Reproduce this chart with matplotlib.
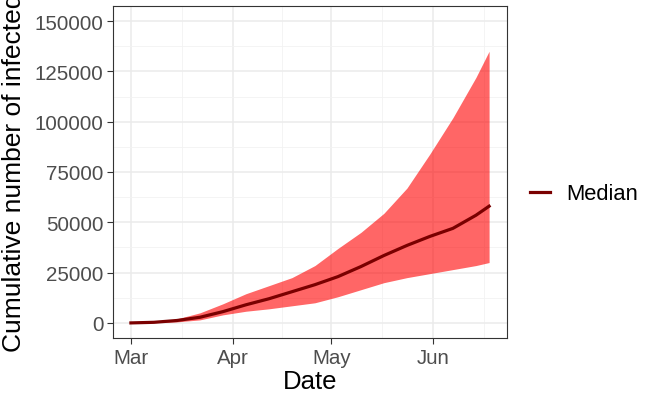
import numpy as np
import pandas as pd
import matplotlib
matplotlib.use("Agg")
import matplotlib.pyplot as plt
import matplotlib.dates as mdates

plt.rcParams['font.family'] = ['Liberation Sans', 'DejaVu Sans']

# === DATA ====================================================================
dates = pd.to_datetime([
    "2020-03-01", "2020-03-08", "2020-03-15", "2020-03-22", "2020-03-29",
    "2020-04-05", "2020-04-12", "2020-04-19", "2020-04-26", "2020-05-03",
    "2020-05-10", "2020-05-17", "2020-05-24", "2020-05-31", "2020-06-07",
    "2020-06-14", "2020-06-18"])
median = [0, 300, 1200, 2800, 5600, 9000, 12000, 15500, 19000, 23000,
          28000, 33500, 38500, 43000, 47000, 53500, 58000]
upper = [0, 400, 2000, 5000, 9500, 14500, 18500, 22500, 28500, 37000,
         45000, 54500, 67000, 84000, 102000, 122000, 135000]
lower = [0, 150, 500, 1500, 4000, 5800, 7000, 8500, 10000, 13000,
         16500, 20000, 22500, 24500, 26500, 28500, 30000]

month_ticks = pd.to_datetime(["2020-03-01", "2020-04-01", "2020-05-01", "2020-06-01"])
month_labels = ["Mar", "Apr", "May", "Jun"]
y_ticks = [0, 25000, 50000, 75000, 100000, 125000, 150000]

# === PLOT ====================================================================
fig = plt.figure(figsize=(6.51, 4.02), dpi=100)
ax = fig.add_axes([113 / 651, 63 / 402, 394 / 651, 332 / 402])

ax.fill_between(dates, lower, upper, color="#FF0000", alpha=0.6, linewidth=0, zorder=2)
ax.plot(dates, median, color="#7A0000", linewidth=2.3, label="Median", zorder=3)

# axes limits (ggplot style 5% expansion)
x0 = mdates.date2num(dates[0])
x1 = mdates.date2num(dates[-1])
pad = (x1 - x0) * 0.05
ax.set_xlim(x0 - pad, x1 + pad)
ax.set_ylim(-7500, 157500)

major_x = mdates.date2num(month_ticks)
minor_x = list((major_x[:-1] + major_x[1:]) / 2) + [major_x[-1] + 15.5]
ax.set_xticks(major_x)
ax.set_xticklabels(month_labels)
ax.set_xticks(minor_x, minor=True)
ax.set_yticks(y_ticks)
ax.set_yticklabels([str(v) for v in y_ticks])
ax.set_yticks([12500 + 25000 * i for i in range(6)], minor=True)

ax.grid(True, which="major", color="#EBEBEB", linewidth=1.1, zorder=0)
ax.grid(True, which="minor", color="#F2F2F2", linewidth=0.6, zorder=0)
ax.set_axisbelow(True)

ax.tick_params(axis="both", which="major", labelsize=14.8, colors="#333333",
               labelcolor="#4D4D4D", length=4, width=0.8, pad=3)
ax.tick_params(axis="both", which="minor", length=0)
for s in ax.spines.values():
    s.set_color("#333333")
    s.set_linewidth(0.8)

ax.set_xlabel("Date", fontsize=18.5, labelpad=2)
ax.set_ylabel("Cumulative number of infected", fontsize=19, labelpad=6)

ax.legend(loc="center left", bbox_to_anchor=(1.008, 0.434), frameon=False,
          fontsize=15.8, handlelength=0.9, handletextpad=0.75)

fig.savefig("out.png", dpi=100)
